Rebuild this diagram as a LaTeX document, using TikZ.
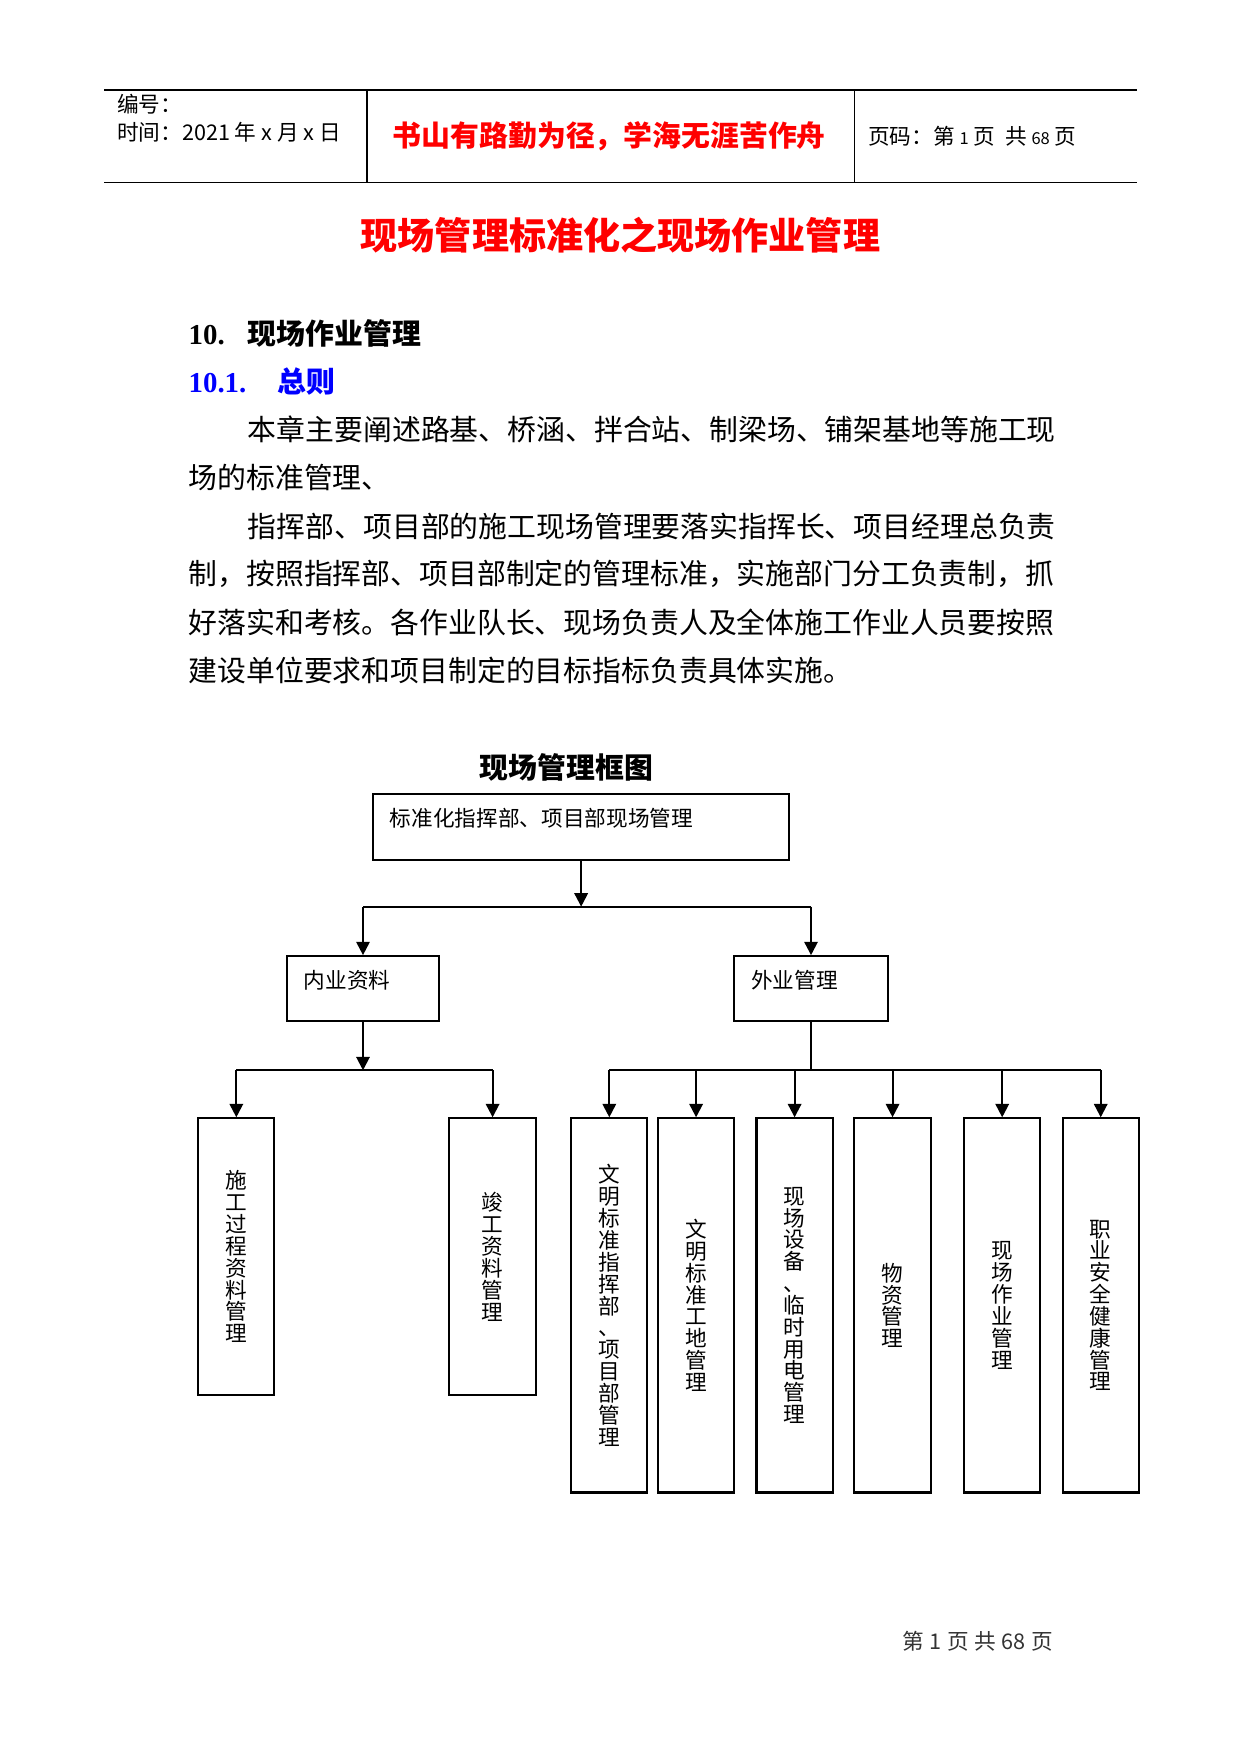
\documentclass[tikz,border=0pt]{standalone}
\usepackage{fontspec}
\usetikzlibrary{arrows.meta}
\newfontfamily\cjk{Noto Sans CJK SC}
\newfontfamily\secnum{Liberation Serif}
\definecolor{mottored}{RGB}{255,0,0}
\definecolor{secblue}{RGB}{0,0,255}
\begin{document}
\begin{tikzpicture}[
txt/.style={inner sep=0,anchor=west,font=\cjk\fontsize{14}{14}\selectfont},
box/.style={draw,line width=1pt,inner ysep=0,font=\cjk\fontsize{10.5}{10.5}\selectfont},
wbox/.style={box,align=left,text height=0.32cm,text depth=0.32cm,inner xsep=0.29cm},
tbox/.style={box,align=center,minimum width=1.3cm,font=\cjk\fontsize{10.5}{10.6}\selectfont},
arr/.style={line width=1pt,-{Triangle[width=6.5pt,length=6.5pt]}},
bus/.style={line width=1pt}]
\useasboundingbox[fill=white](0,0)rectangle(21.15,-29.91);
% header
\draw[line width=0.8pt](1.78,-1.53)--(19.38,-1.53) (1.78,-3.11)--(19.38,-3.11);
\draw[line width=0.8pt](6.26,-1.53)--(6.26,-3.11) (14.57,-1.53)--(14.57,-3.11);
\node[inner sep=0,anchor=west,font=\cjk\fontsize{10.5}{10.5}\selectfont](code)at(1.99,-1.78){编号：};
\node[inner sep=0,anchor=west,font=\cjk\fontsize{10.5}{10.5}\selectfont](date)at(1.99,-2.25){时间：2021 年 x 月 x 日};
\node[inner sep=0,text=mottored,font=\cjk\bfseries\fontsize{14}{14}\selectfont](motto)at(10.39,-2.33){书山有路勤为径，学海无涯苦作舟};
\node[inner sep=0,anchor=west,font=\cjk\fontsize{10.5}{10.5}\selectfont](pageno)at(14.80,-2.33){页码：第 {\footnotesize 1} 页\ \ 共 {\footnotesize 68} 页};
% title and text
\node[inner sep=0,text=mottored,font=\cjk\bfseries\fontsize{18}{18}\selectfont](title)at(10.58,-4.01){现场管理标准化之现场作业管理};
\node[txt,font=\cjk\bfseries\fontsize{14}{14}\selectfont](sec)at(3.21,-5.69){\makebox[1.01cm][l]{\secnum 10.}现场作业管理};
\node[txt,text=secblue,font=\cjk\bfseries\fontsize{14}{14}\selectfont](subsec)at(3.21,-6.51){\makebox[1.52cm][l]{\secnum 10.1.}总则};
\node[txt](l1)at(4.22,-7.33){本章主要阐述路基、桥涵、拌合站、制梁场、铺架基地等施工现};
\node[txt](l2)at(3.21,-8.15){场的标准管理、};
\node[txt](l3)at(4.22,-8.97){指挥部、项目部的施工现场管理要落实指挥长、项目经理总负责};
\node[txt](l4)at(3.21,-9.79){制，按照指挥部、项目部制定的管理标准，实施部门分工负责制，抓};
\node[txt](l5)at(3.21,-10.61){好落实和考核。各作业队长、现场负责人及全体施工作业人员要按照};
\node[txt](l6)at(3.21,-11.44){建设单位要求和项目制定的目标指标负责具体实施。};
% chart
\node[inner sep=0,font=\cjk\bfseries\fontsize{14}{14}\selectfont](charttitle)at(9.66,-13.08){现场管理框图};
\node[wbox,text width=6.52cm,minimum height=1.12cm](top)at(9.91,-14.10){标准化指挥部、项目部现场管理};
\node[wbox,text width=2.02cm,minimum height=1.11cm](inner)at(6.19,-16.86){内业资料};
\node[wbox,text width=2.04cm,minimum height=1.11cm](outer)at(13.83,-16.86){外业管理};
\node[tbox,minimum height=4.72cm](doc1)at(4.03,-21.43){施\\工\\过\\程\\资\\料\\管\\理};
\node[tbox,minimum width=1.49cm,minimum height=4.72cm](doc2)at(8.40,-21.43){竣\\工\\资\\料\\管\\理};
\node[tbox,minimum height=6.38cm](site1)at(10.39,-22.26){文\\明\\标\\准\\指\\挥\\部\\、\\项\\目\\部\\管\\理};
\node[tbox,minimum height=6.38cm](site2)at(11.87,-22.26){文\\明\\标\\准\\工\\地\\管\\理};
\node[tbox,minimum height=6.38cm](site3)at(13.55,-22.26){现\\场\\设\\备\\、\\临\\时\\用\\电\\管\\理};
\node[tbox,minimum height=6.38cm](site4)at(15.22,-22.26){物\\资\\管\\理};
\node[tbox,minimum height=6.38cm](site5)at(17.09,-22.26){现\\场\\作\\业\\管\\理};
\node[tbox,minimum height=6.38cm](site6)at(18.77,-22.26){职\\业\\安\\全\\健\\康\\管\\理};
\coordinate(j1)at(9.91,-15.46);
\coordinate(j2)at(6.19,-18.25);
\coordinate(j3)at(13.83,-18.25);
\draw[arr](top)--(j1);
\draw[bus](inner.north|-j1)--(outer.north|-j1);
\draw[arr](inner.north|-j1)--(inner.north);
\draw[arr](outer.north|-j1)--(outer.north);
\draw[arr](inner)--(j2);
\draw[bus](doc1.north|-j2)--(doc2.north|-j2);
\foreach \n in {doc1,doc2}{\draw[arr](\n.north|-j2)--(\n.north);}
\draw[bus](outer)--(j3);
\draw[bus](site1.north|-j3)--(site6.north|-j3);
\foreach \n in {site1,site2,site3,site4,site5,site6}{\draw[arr](\n.north|-j3)--(\n.north);}
% footer
\node[inner sep=0,text=black!80,font=\cjk\fontsize{10.5}{10.5}\selectfont](foot)at(16.67,-27.99){第\hspace{0.26em}1\hspace{0.26em}页\hspace{0.26em}共\hspace{0.26em}68\hspace{0.26em}页};
\end{tikzpicture}
\end{document}
